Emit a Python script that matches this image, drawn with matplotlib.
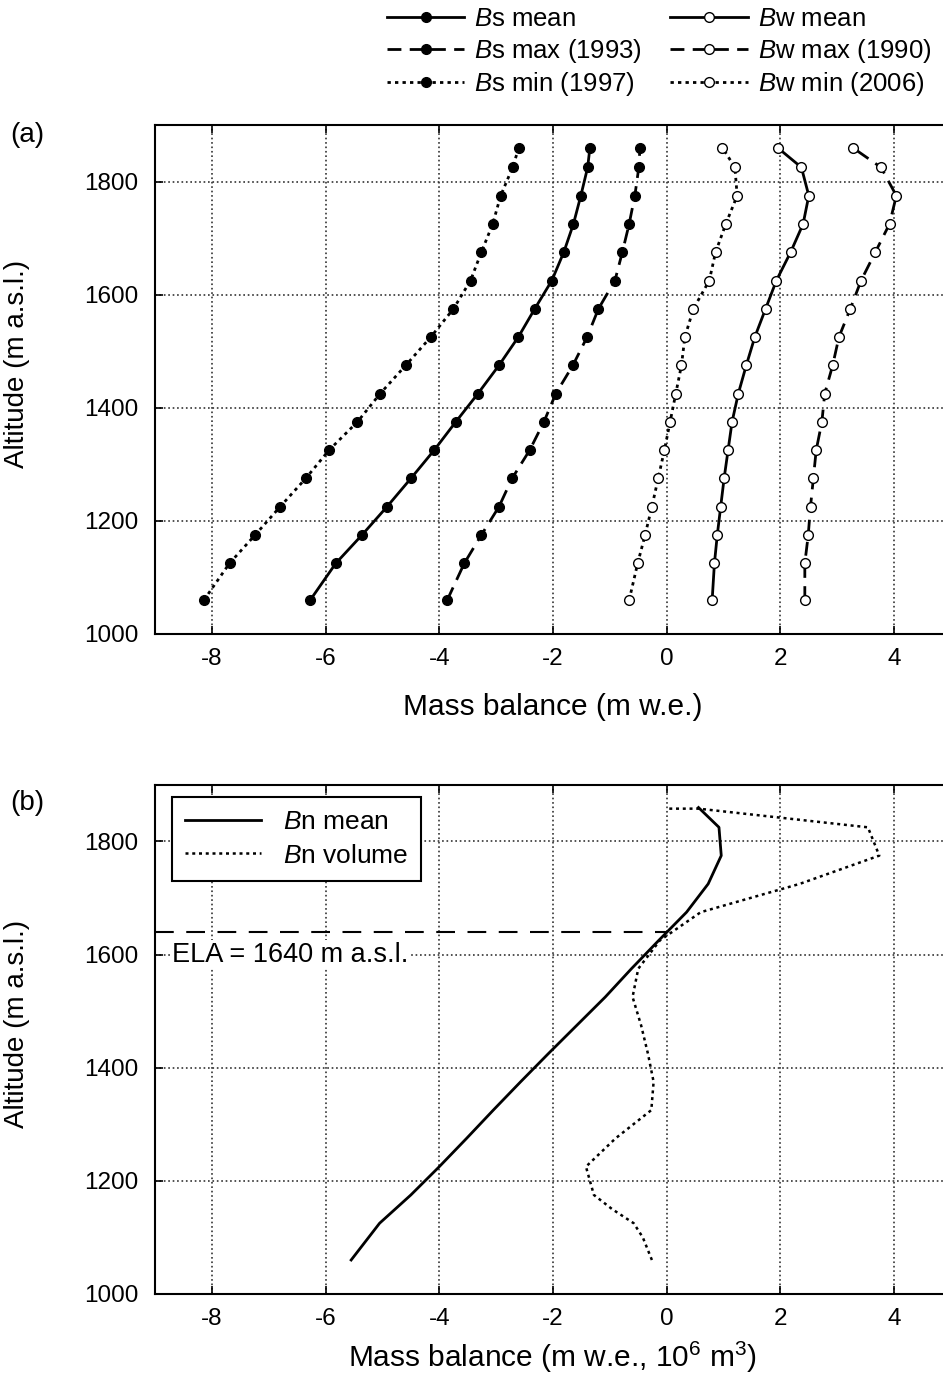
import matplotlib
matplotlib.use("Agg")
import matplotlib.pyplot as plt

plt.rcParams['font.family'] = ['Liberation Sans', 'DejaVu Sans']
plt.rcParams['mathtext.fontset'] = 'custom'
plt.rcParams['mathtext.rm'] = 'Liberation Sans'
plt.rcParams['mathtext.it'] = 'Liberation Sans:italic'

# altitude bands (m a.s.l.)
alt = [1060, 1125, 1175, 1225, 1275, 1325, 1375, 1425, 1475, 1525, 1575, 1625, 1675, 1725, 1775, 1825, 1860]

# summer balance
bs_mean = [-6.27, -5.82, -5.36, -4.92, -4.50, -4.09, -3.71, -3.32, -2.95, -2.61, -2.32, -2.02, -1.81, -1.64, -1.51, -1.39, -1.35]
bs_max = [-3.86, -3.56, -3.26, -2.95, -2.72, -2.41, -2.16, -1.95, -1.65, -1.40, -1.20, -0.91, -0.78, -0.66, -0.56, -0.49, -0.47]
bs_min = [-8.14, -7.69, -7.24, -6.80, -6.35, -5.94, -5.44, -5.04, -4.59, -4.15, -3.75, -3.45, -3.26, -3.06, -2.92, -2.71, -2.60]
# winter balance
bw_mean = [0.80, 0.84, 0.89, 0.95, 1.01, 1.08, 1.15, 1.26, 1.40, 1.55, 1.74, 1.93, 2.18, 2.40, 2.50, 2.37, 1.95]
bw_max = [2.43, 2.43, 2.49, 2.53, 2.58, 2.63, 2.73, 2.78, 2.92, 3.03, 3.23, 3.42, 3.67, 3.92, 4.04, 3.77, 3.27]
bw_min = [-0.66, -0.51, -0.38, -0.26, -0.15, -0.04, 0.06, 0.16, 0.26, 0.32, 0.47, 0.75, 0.86, 1.04, 1.24, 1.20, 0.98]

# net balance
bn_mean = [-5.55, -5.05, -4.50, -4.00, -3.52, -3.05, -2.57, -2.08, -1.58, -1.08, -0.62, -0.14, 0.35, 0.73, 0.96, 0.92, 0.56]
vol_alt = [1060, 1100, 1125, 1150, 1175, 1225, 1275, 1325, 1375, 1425, 1475, 1525, 1575, 1625, 1675, 1725, 1775, 1825, 1858, 1858]
bn_vol = [-0.26, -0.42, -0.58, -0.96, -1.28, -1.42, -0.90, -0.27, -0.23, -0.33, -0.45, -0.60, -0.50, -0.12, 0.60, 2.34, 3.74, 3.54, 0.56, 0.0]

ELA = 1640

xticks = [-8, -6, -4, -2, 0, 2, 4]
yticks = [1000, 1200, 1400, 1600, 1800]

fig = plt.figure(figsize=(9.43, 13.87), dpi=100)
axA = fig.add_axes([0.1644, 0.5429, 0.844, 0.367])
axB = fig.add_axes([0.1644, 0.0671, 0.844, 0.367])

dash = (0, (5, 3))
dot = (0, (1.2, 1.5))

def style(ax):
    ax.set_xlim(-9, 5)
    ax.set_ylim(1000, 1900)
    ax.set_xticks(xticks)
    ax.set_xticklabels([str(t) for t in xticks])
    ax.set_yticks(yticks)
    ax.grid(True, color='0.2', linestyle=':', linewidth=1.2)
    ax.tick_params(direction='in', length=6, width=1.2, top=True, right=True, labelsize=17.5)
    ax.tick_params(axis='x', pad=10)
    ax.tick_params(axis='y', pad=12)
    for s in ax.spines.values():
        s.set_linewidth(1.5)
    ax.set_ylabel('Altitude (m a.s.l.)', fontsize=20)
    ax.yaxis.set_label_coords(-0.157, 0.53)

style(axA)
kw = dict(color='black', lw=2, markersize=7, markeredgewidth=1)
axA.plot(bs_mean, alt, '-', marker='o', mfc='black', label='$B$s mean', **kw)
axA.plot(bs_max, alt, linestyle=dash, marker='o', mfc='black', label='$B$s max (1993)', **kw)
axA.plot(bs_min, alt, linestyle=dot, marker='o', mfc='black', label='$B$s min (1997)', **kw)
axA.plot(bw_mean, alt, '-', marker='o', mfc='white', label='$B$w mean', **kw)
axA.plot(bw_max, alt, linestyle=dash, marker='o', mfc='white', label='$B$w max (1990)', **kw)
axA.plot(bw_min, alt, linestyle=dot, marker='o', mfc='white', label='$B$w min (2006)', **kw)
axA.set_xlabel('Mass balance (m w.e.)', fontsize=21.5)
axA.xaxis.set_label_coords(0.5, -0.115)

fig.legend(*axA.get_legend_handles_labels(), ncol=2, loc='upper right',
           bbox_to_anchor=(1.0, 1.003), frameon=False, fontsize=18.5,
           handlelength=3.0, handletextpad=0.4, columnspacing=1.1,
           labelspacing=0.2, numpoints=1, borderaxespad=0.05)

style(axB)
axB.plot(bn_mean, alt, '-', color='black', lw=2, label='$B$n mean')
axB.plot(bn_vol, vol_alt, linestyle=dot, color='black', lw=1.8, label='$B$n volume')
axB.plot([-9, 0], [ELA, ELA], color='black', lw=1.5, linestyle=(0, (9, 6)))
axB.text(-8.7, 1600, 'ELA = %d m a.s.l.' % ELA, fontsize=19.5, va='center', ha='left',
         bbox=dict(facecolor='white', edgecolor='none', pad=1))
leg = axB.legend(loc='upper left', bbox_to_anchor=(0.021, 0.976), borderaxespad=0,
                 fontsize=19, fancybox=False, edgecolor='black', framealpha=1,
                 handlelength=2.9, borderpad=0.5, labelspacing=0.35)
leg.get_frame().set_linewidth(1.5)
axB.set_xlabel('Mass balance (m w.e., 10$^6$ m$^3$)', fontsize=21.5)
axB.xaxis.set_label_coords(0.5, -0.09)

fig.text(10 / 943, 1 - 135 / 1387, '(a)', fontsize=20, va='center', ha='left')
fig.text(10 / 943, 1 - 803 / 1387, '(b)', fontsize=20, va='center', ha='left')

fig.savefig('out.png', dpi=100)
